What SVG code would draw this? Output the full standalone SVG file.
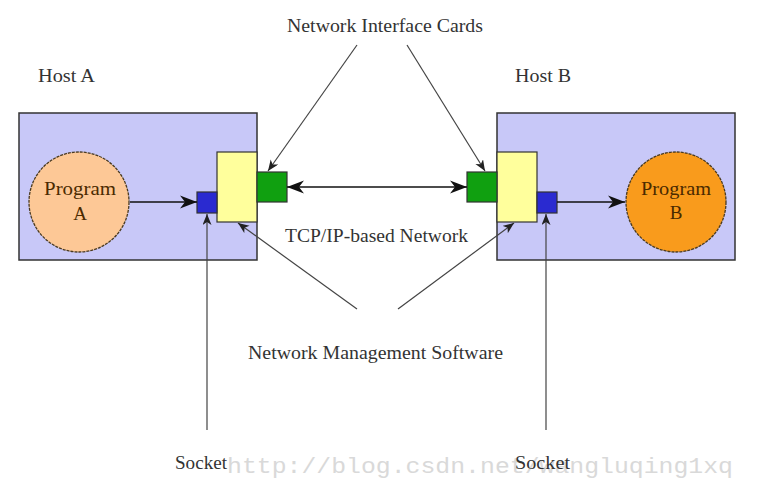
<svg xmlns="http://www.w3.org/2000/svg" width="757" height="489" viewBox="0 0 757 489">
<style>
  text { font-family: "Liberation Serif", "Times New Roman", serif; font-size: 19px; fill: #333; }
  .host { fill: #c8c8f8; stroke: #333; stroke-width: 1.5; }
  .yellow { fill: #ffff9c; stroke: #333; stroke-width: 1.2; }
  .green { fill: #10a010; stroke: #333; stroke-width: 1.2; }
  .blue { fill: #2a2ad0; stroke: #333; stroke-width: 1.2; }
  .prog { fill: #4a2a00; text-anchor: middle; }
  .big { stroke: #111; stroke-width: 1.3; fill: none; }
  .thin { stroke: #444; stroke-width: 1.2; fill: none; }
  .wm { font-family: "Liberation Mono", "DejaVu Sans Mono", monospace; font-size: 22px; fill: #d9d9d9; }
</style>
<defs>
  <marker id="ah" markerUnits="userSpaceOnUse" markerWidth="20" markerHeight="14" refX="17" refY="7" orient="auto-start-reverse">
    <path d="M0,0.5 L17,7 L0,13.5 L5,7 z" fill="#111"/>
  </marker>
  <marker id="as" markerUnits="userSpaceOnUse" markerWidth="14" markerHeight="10" refX="11" refY="4.5" orient="auto">
    <path d="M0,0 L11,4.5 L0,9 L3,4.5 z" fill="#222"/>
  </marker>
</defs>
<rect width="757" height="489" fill="#ffffff"/>

<text class="wm" x="227" y="473" textLength="506" lengthAdjust="spacingAndGlyphs">http://blog.csdn.net/wangluqing1xq</text>

<g id="hostA">
  <rect class="host" x="19" y="113" width="238" height="147"/>
  <text x="38" y="82" textLength="57" lengthAdjust="spacingAndGlyphs">Host A</text>
</g>
<g id="hostB">
  <rect class="host" x="497" y="113" width="238" height="147"/>
  <text x="515" y="82" textLength="56" lengthAdjust="spacingAndGlyphs">Host B</text>
</g>

<g id="programA">
  <circle cx="79" cy="202" r="50" fill="#fdc896" stroke="#4a3a20" stroke-width="1.3" stroke-dasharray="3,1"/>
  <text class="prog" x="80" y="195" textLength="72" lengthAdjust="spacingAndGlyphs">Program</text>
  <text class="prog" x="80" y="220">A</text>
</g>
<g id="programB">
  <circle cx="676" cy="202" r="50" fill="#f99b1c" stroke="#4a3a20" stroke-width="1.3" stroke-dasharray="3,1"/>
  <text class="prog" x="676" y="195" textLength="70" lengthAdjust="spacingAndGlyphs">Program</text>
  <text class="prog" x="676" y="219">B</text>
</g>

<g id="nmsA"><rect class="yellow" x="217" y="152" width="40" height="70"/></g>
<g id="nicA"><rect class="green" x="257" y="172" width="30" height="30"/></g>
<g id="socketA"><rect class="blue" x="197" y="192" width="20" height="21"/></g>

<g id="nmsB"><rect class="yellow" x="497" y="152" width="40" height="70"/></g>
<g id="nicB"><rect class="green" x="467" y="172" width="30" height="30"/></g>
<g id="socketB"><rect class="blue" x="537" y="192" width="20" height="21"/></g>

<g id="label-nic"><text x="287" y="32" textLength="196" lengthAdjust="spacingAndGlyphs">Network Interface Cards</text></g>
<g id="label-tcp"><text x="285" y="242" textLength="183" lengthAdjust="spacingAndGlyphs">TCP/IP-based Network</text></g>
<g id="label-nms"><text x="248" y="359" textLength="255" lengthAdjust="spacingAndGlyphs">Network Management Software</text></g>
<g id="label-socketA"><text x="175" y="469" textLength="52" lengthAdjust="spacingAndGlyphs">Socket</text></g>
<g id="label-socketB"><text x="515" y="469" textLength="55" lengthAdjust="spacingAndGlyphs">Socket</text></g>

<g id="connectors">
  <line class="big" x1="130" y1="202" x2="197" y2="202" marker-end="url(#ah)"/>
  <line class="big" x1="557" y1="202" x2="625" y2="202" marker-end="url(#ah)"/>
  <line class="big" x1="287" y1="187" x2="467" y2="187" marker-start="url(#ah)" marker-end="url(#ah)"/>
  <line class="thin" x1="357" y1="45" x2="268" y2="171" marker-end="url(#as)"/>
  <line class="thin" x1="407" y1="45" x2="485" y2="171" marker-end="url(#as)"/>
  <line class="thin" x1="357" y1="309" x2="238" y2="223" marker-end="url(#as)"/>
  <line class="thin" x1="398" y1="309" x2="514" y2="223" marker-end="url(#as)"/>
  <line class="thin" x1="207" y1="430" x2="207" y2="214" marker-end="url(#as)"/>
  <line class="thin" x1="546" y1="430" x2="546" y2="214" marker-end="url(#as)"/>
</g>
</svg>
